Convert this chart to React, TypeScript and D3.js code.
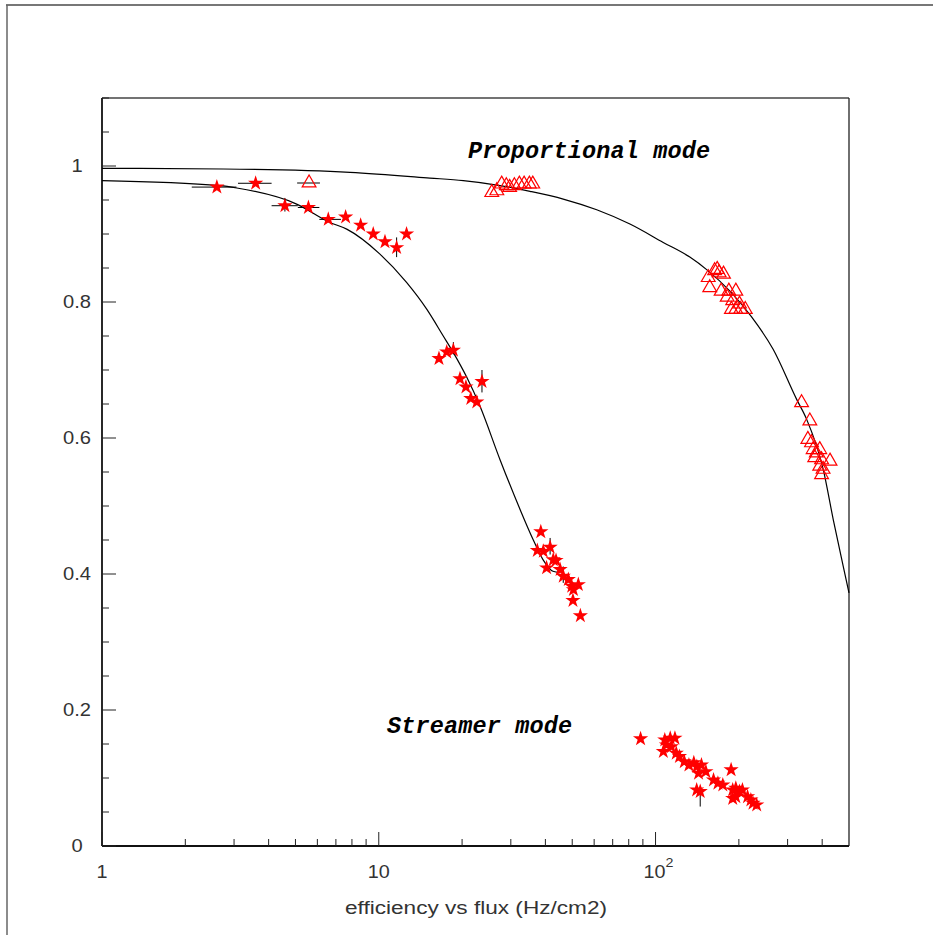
import React from "react";
import * as d3 from "d3";

// ---- Data ----
// Proportional mode (open triangles)
const propFlux = [5.6, 25.6, 26.7, 27.8, 28.9, 29.7, 30.9, 32.2, 33.5, 35, 36,
  155, 163.5, 169.7, 176, 157, 172.6, 184, 195, 181.5, 190, 201, 188, 195, 203, 211, 167,
  337, 361, 355, 366, 371, 381, 392, 376, 398, 427, 392, 403, 398];
const propEff = [0.975, 0.961, 0.9636, 0.9735, 0.971, 0.9686, 0.971, 0.9735, 0.9735, 0.9735, 0.9735,
  0.836, 0.846, 0.843, 0.841, 0.821, 0.816, 0.816, 0.816, 0.807, 0.802, 0.797, 0.789, 0.789, 0.789, 0.789, 0.848,
  0.652, 0.625, 0.598, 0.593, 0.583, 0.578, 0.583, 0.571, 0.568, 0.566, 0.5586, 0.554, 0.546];

// Streamer mode (filled stars)
const strFlux = [2.6, 3.59, 4.58, 5.57, 6.57, 7.59, 8.6, 9.55, 10.53, 11.6, 12.6,
  16.5, 17.6, 18.6, 19.65, 20.65, 21.5, 22.6, 23.6,
  38.5, 37.4, 39.3, 41.6, 42.7, 40.4, 43.7, 45.2, 46.4, 48.4, 49.8, 50.5, 52.6, 50.3, 53.5,
  88.3, 108, 113, 117.5, 109.5, 106.7, 114, 118.8, 122, 127, 132, 137.5, 141, 146.5, 143, 152,
  145, 140.8, 162, 168, 175, 187.5, 190, 195, 201, 206, 190, 195, 221, 232, 225, 215];
const strEff = [0.969, 0.9746, 0.9416, 0.939, 0.9215, 0.925, 0.913, 0.9, 0.8885, 0.88, 0.9,
  0.7168, 0.7265, 0.729, 0.687, 0.675, 0.658, 0.653, 0.683,
  0.462, 0.4345, 0.4334, 0.4393, 0.421, 0.409, 0.42, 0.4065, 0.3966, 0.3918, 0.382, 0.377, 0.3844, 0.361, 0.3387,
  0.1576, 0.156, 0.1586, 0.1586, 0.1487, 0.139, 0.146, 0.1365, 0.1315, 0.124, 0.119, 0.1225, 0.1168, 0.119, 0.107, 0.1094,
  0.08, 0.0825, 0.097, 0.0923, 0.0898, 0.112, 0.0825, 0.085, 0.08, 0.0825, 0.07, 0.0724, 0.0677, 0.0604, 0.0628, 0.0724];

// Horizontal error bars: y, xLow, xHigh
const hErrY = [0.969, 0.9746, 0.975, 0.9416, 0.939, 0.9215];
const hErrLo = [2.11, 3.1, 5.07, 4.1, 5.1, 6.1];
const hErrHi = [3.06, 4.1, 6.13, 5.1, 6.1, 7.3];

// Vertical error bars: x, yLow, yHigh
const vErrX = [4.58, 11.6, 18.6, 23.6, 41.6, 46.4, 145];
const vErrLo = [0.933, 0.866, 0.723, 0.667, 0.4286, 0.387, 0.058];
const vErrHi = [0.953, 0.895, 0.741, 0.7, 0.453, 0.411, 0.087];

// Fit curves
const fit1Flux = [1, 2.74, 7.87, 15.3, 20.2, 26.7, 35.2, 46.4, 61.3, 80.8, 106.6, 133, 153, 185.7, 222, 266, 323.5, 351.6, 403.5, 438.6, 476.6, 500];
const fit1Eff = [0.9966, 0.9956, 0.9907, 0.9823, 0.9784, 0.972, 0.9627, 0.9514, 0.9356, 0.9146, 0.8876, 0.866, 0.8476, 0.8159, 0.7784, 0.7305, 0.6568, 0.6274, 0.5538, 0.4801, 0.4113, 0.3722];
const fit2Flux = [1, 2.67, 3.07, 5.05, 6.66, 7.66, 10.1, 12.6, 14.9, 17.1, 18.6, 20.8, 23.2, 27.4, 32.4, 36.1, 39.2, 42.6, 45.2];
const fit2Eff = [0.9784, 0.971, 0.9676, 0.944, 0.917, 0.9072, 0.8704, 0.8287, 0.7894, 0.75, 0.7256, 0.6892, 0.647, 0.5685, 0.4948, 0.4507, 0.4212, 0.404, 0.402];

const xMajorTicks = [1, 10, 100];
const xMinorTicks = [2, 3, 4, 5, 6, 7, 8, 9, 20, 30, 40, 50, 60, 70, 80, 90, 200, 300, 400];
const yMajorTicks = [0, 0.2, 0.4, 0.6, 0.8, 1];
const yTickLabels = ["0", "0.2", "0.4", "0.6", "0.8", "1"];

const W = 933, H = 935;
const L = 102, R = 849, T = 98, B = 846;

export default function App() {
  const x = d3.scaleLog().domain([1, 500]).range([L, R]);
  const y = d3.scaleLinear().domain([0, 1.1]).range([B, T]);
  const yMinor = d3.range(0, 1.1001, 0.05);

  const line = d3.line<[number, number]>().x(d => x(d[0])).y(d => y(d[1])).curve(d3.curveMonotoneX);
  const fit1 = fit1Flux.map((f, i) => [f, fit1Eff[i]] as [number, number]);
  const fit2 = fit2Flux.map((f, i) => [f, fit2Eff[i]] as [number, number]);

  const starPath = d3.symbol().type(d3.symbolStar).size(72)() as string;
  const triPath = d3.symbol().type(d3.symbolTriangle).size(82)() as string;

  const labelFont = "'Liberation Sans', Arial, sans-serif";
  const lblColor = "#333";

  return (
    <svg width={W} height={H} style={{ position: "absolute", left: 0, top: 0, background: "#fff" }}>
      {/* outer canvas frame */}
      <line x1={6} x2={W} y1={5} y2={5} stroke="#777" strokeWidth={2} />
      <line x1={7} x2={7} y1={5} y2={H} stroke="#666" strokeWidth={1.5} />

      {/* plot frame */}
      <line x1={L} x2={R} y1={T} y2={T} stroke="#444" strokeWidth={1.3} />
      <line x1={R} x2={R} y1={T} y2={B} stroke="#222" strokeWidth={1.3} />
      <line x1={L} x2={L} y1={T} y2={B} stroke="#111" strokeWidth={1.8} />
      <line x1={L} x2={R} y1={B} y2={B} stroke="#111" strokeWidth={1.8} />

      {/* y ticks */}
      {yMinor.map((v, i) => {
        const major = Math.abs(v * 5 - Math.round(v * 5)) < 1e-6;
        return <line key={"ym" + i} x1={L} x2={L + (major ? 14 : 7)} y1={y(v)} y2={y(v)} stroke="#222" strokeWidth={1} />;
      })}
      {yMajorTicks.map((v, i) => (
        <text key={"yl" + i} transform={`translate(77,${y(v)}) scale(1.12,1)`} dy="0.36em" textAnchor="middle" fontFamily={labelFont} fontSize={18} fill={lblColor}>
          {yTickLabels[i]}
        </text>
      ))}

      {/* x ticks */}
      {xMajorTicks.map((v, i) => (
        <line key={"xM" + i} x1={x(v)} x2={x(v)} y1={B} y2={B - 14} stroke="#222" strokeWidth={1} />
      ))}
      {xMinorTicks.map((v, i) => (
        <line key={"xm" + i} x1={x(v)} x2={x(v)} y1={B} y2={B - 7} stroke="#222" strokeWidth={1} />
      ))}
      <text transform={`translate(${x(1)},878) scale(1.1,1)`} textAnchor="middle" fontFamily={labelFont} fontSize={18} fill={lblColor}>1</text>
      <text transform={`translate(${x(10)},878) scale(1.1,1)`} textAnchor="middle" fontFamily={labelFont} fontSize={18} fill={lblColor}>10</text>
      <text transform={`translate(${x(100) - 1},878) scale(1.1,1)`} textAnchor="middle" fontFamily={labelFont} fontSize={18} fill={lblColor}>10</text>
      <text transform={`translate(${x(100) + 14},867) scale(1.1,1)`} textAnchor="middle" fontFamily={labelFont} fontSize={13} fill={lblColor}>2</text>

      <text x={476} y={914} textAnchor="middle" fontFamily={labelFont} fontSize={18} textLength={262} lengthAdjust="spacingAndGlyphs" fill={lblColor}>
        efficiency vs flux (Hz/cm2)
      </text>

      {/* fit curves */}
      <path d={line(fit1) as string} fill="none" stroke="#000" strokeWidth={1.2} />
      <path d={line(fit2) as string} fill="none" stroke="#000" strokeWidth={1.2} />

      {/* error bars */}
      {hErrY.map((v, i) => (
        <line key={"he" + i} x1={x(hErrLo[i])} x2={x(hErrHi[i])} y1={y(v)} y2={y(v)} stroke="#000" strokeWidth={1} />
      ))}
      {vErrX.map((v, i) => (
        <line key={"ve" + i} x1={x(v)} x2={x(v)} y1={y(vErrLo[i])} y2={y(vErrHi[i])} stroke="#000" strokeWidth={1} />
      ))}

      {/* streamer stars */}
      {strFlux.map((f, i) => (
        <path key={"s" + i} d={starPath} transform={`translate(${x(f)},${y(strEff[i])})`} fill="#ff0000" />
      ))}

      {/* proportional triangles */}
      {propFlux.map((f, i) => (
        <path key={"p" + i} d={triPath} transform={`translate(${x(f)},${y(propEff[i])})`} fill="none" stroke="#ff0000" strokeWidth={1.2} />
      ))}

      {/* annotations */}
      <text x={468} y={158} fontFamily="'Liberation Mono', 'Courier New', monospace" fontWeight="bold" fontStyle="italic" fontSize={23.5} textLength={242} fill="#000">
        Proportional mode
      </text>
      <text x={387} y={733} fontFamily="'Liberation Mono', 'Courier New', monospace" fontWeight="bold" fontStyle="italic" fontSize={23.5} textLength={185} fill="#000">
        Streamer mode
      </text>
    </svg>
  );
}
